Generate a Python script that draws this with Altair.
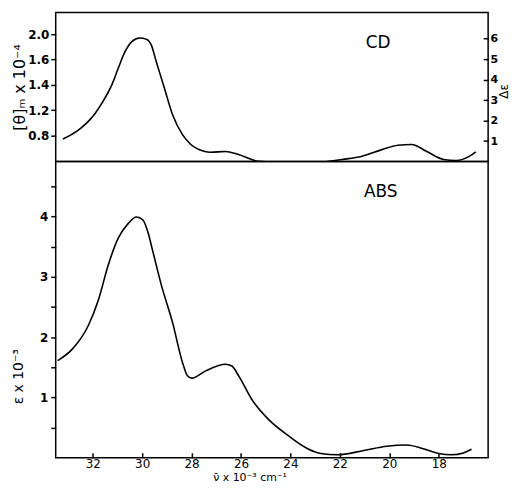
import altair as alt
import pandas as pd

# ---- CD spectrum (Δε) ----
nu_cd = [33.21, 32.57, 32.23, 31.9, 31.63, 31.23, 30.97, 30.7, 30.43, 30.1, 29.83, 29.63,
         29.43, 29.1, 28.77, 28.37, 28.03, 27.5, 27.23, 26.63, 26.1, 25.3, 24.05, 22.7,
         21.9, 21.1, 20.3, 19.65, 19.1, 18.5, 17.8, 17.3, 16.75, 16.5]
de_cd = [1.10, 1.55, 1.9, 2.36, 2.85, 3.74, 4.55, 5.35, 5.84, 6.03, 5.97, 5.68,
         4.87, 3.58, 2.28, 1.31, 0.83, 0.5, 0.45, 0.49, 0.34, 0.01, -0.06, -0.02,
         0.1, 0.26, 0.58, 0.79, 0.83, 0.5, 0.1, 0.05, 0.26, 0.47]

# ---- Absorption spectrum (ε x 10^-3) ----
nu_abs = [33.42, 32.83, 32.17, 31.77, 31.37, 30.97, 30.57, 30.23, 29.97, 29.77, 29.57,
          29.23, 28.77, 28.37, 28.17, 28.0, 27.43, 26.63, 26.37, 26.1, 25.57, 24.9,
          24.1, 23.3, 22.77, 22.1, 21.03, 20.1, 19.3, 18.63, 18.0, 17.47, 17.0, 16.67]
eps_abs = [1.61, 1.80, 2.2, 2.62, 3.2, 3.64, 3.88, 3.99, 3.94, 3.74, 3.42,
           2.87, 2.24, 1.58, 1.36, 1.32, 1.44, 1.55, 1.52, 1.36, 0.97, 0.64,
           0.37, 0.15, 0.07, 0.05, 0.12, 0.19, 0.21, 0.15, 0.07, 0.05, 0.08, 0.14]

# axis tick labels
x_ticks = [32, 30, 28, 26, 24, 22, 20, 18]
de_ticks = [1, 2, 3, 4, 5, 6]
theta_tick_pos = [6.2, 4.98, 3.74, 2.51, 1.26]      # positions on the Δε scale
theta_tick_labels = ["2.0", "1.6", "1.4", "1.2", "0.8"]
eps_ticks = [0.5, 1, 1.5, 2, 2.5, 3, 3.5, 4, 4.5]

# panel labels
panel_names = ["CD", "ABS"]
panel_nu = [20.45, 20.35]
panel_val = [5.78, 4.4]

cd_df = pd.DataFrame({"nu": nu_cd, "de": de_cd})
abs_df = pd.DataFrame({"nu": nu_abs, "eps": eps_abs})
cd_lab = pd.DataFrame({"nu": [panel_nu[0]], "de": [panel_val[0]], "t": [panel_names[0]]})
abs_lab = pd.DataFrame({"nu": [panel_nu[1]], "eps": [panel_val[1]], "t": [panel_names[1]]})

FONT = "DejaVu Sans"
W = 435
xscale = alt.Scale(domain=[16, 33.5], reverse=True, nice=False, zero=False)

# labelExpr for the [θ] axis
expr = "''"
for p, l in zip(reversed(theta_tick_pos), reversed(theta_tick_labels)):
    expr = f"abs(datum.value - {p}) < 0.01 ? '{l}' : ({expr})"

de_scale = alt.Scale(domain=[0, 7.28], nice=False, zero=False)

cd_left = alt.Chart(cd_df).mark_line(color="black", strokeWidth=1.6, interpolate="monotone", clip=True).encode(
    x=alt.X("nu:Q", scale=xscale, axis=None),
    y=alt.Y("de:Q", scale=de_scale,
            axis=alt.Axis(orient="left", values=theta_tick_pos, labelExpr=expr,
                          title="[θ]ₘ x 10⁻⁴", grid=False, domain=False,
                          tickSize=5, tickColor="black", tickWidth=1.5,
                          labelPadding=2, labelFontSize=12, labelFontWeight="bold",
                          titleFontSize=16, titleFontWeight="normal", titleX=-28)),
)
cd_right = alt.Chart(cd_df).mark_line(opacity=0, clip=True).encode(
    x=alt.X("nu:Q", scale=xscale, axis=None),
    y=alt.Y("de:Q", scale=de_scale,
            axis=alt.Axis(orient="right", values=de_ticks, format="d",
                          title="Δε", titleAngle=270, titleBaseline="top", titleX=15, titleY=79,
                          grid=False, domain=False,
                          offset=-5, tickSize=5, tickColor="black", tickWidth=1.5,
                          labelPadding=2, labelFontSize=11, labelFontWeight="bold",
                          titleFontSize=12, titleFontWeight="normal")),
)
cd_text = alt.Chart(cd_lab).mark_text(font=FONT, fontSize=17, color="black").encode(
    x=alt.X("nu:Q", scale=xscale, axis=None),
    y=alt.Y("de:Q", scale=de_scale, axis=None),
    text="t:N",
)
top = alt.layer(cd_left, cd_right, cd_text).resolve_axis(y="independent").properties(width=W, height=150)

eps_scale = alt.Scale(domain=[0, 4.91], nice=False, zero=False)
abs_line = alt.Chart(abs_df).mark_line(color="black", strokeWidth=1.6, interpolate="monotone").encode(
    x=alt.X("nu:Q", scale=xscale,
            axis=alt.Axis(values=x_ticks, format="d", title="ν̄ x 10⁻³ cm⁻¹", grid=False,
                          domain=False, offset=-5, tickSize=5, tickColor="black", tickWidth=1.5,
                          labelPadding=1, labelFontSize=12, titleFontSize=11,
                          titleFontWeight="normal", titlePadding=2, titleX=195)),
    y=alt.Y("eps:Q", scale=eps_scale,
            axis=alt.Axis(values=eps_ticks,
                          labelExpr="datum.value % 1 == 0 ? format(datum.value, 'd') : ''",
                          title="ε x 10⁻³", grid=False, domain=False,
                          tickSize=5, tickColor="black", tickWidth=1.5,
                          labelPadding=3, labelFontSize=12, labelFontWeight="bold",
                          titleFontSize=14, titleFontWeight="normal", titleX=-30, titleY=216)),
)
abs_text = alt.Chart(abs_lab).mark_text(font=FONT, fontSize=17, color="black").encode(
    x=alt.X("nu:Q", scale=xscale, axis=None),
    y=alt.Y("eps:Q", scale=eps_scale, axis=None),
    text="t:N",
)
bottom = alt.layer(abs_line, abs_text).resolve_axis(x="independent", y="independent").properties(width=W, height=298)

chart = alt.vconcat(top, bottom, spacing=0, bounds="flush").properties(
    padding={"left": 3, "top": 2, "right": 0, "bottom": 0}
).configure_view(stroke="black", strokeWidth=1.5).configure_axis(
    labelFont=FONT, titleFont=FONT, labelColor="black", titleColor="black"
)

chart.save("out.html", embed_options={"renderer": "svg", "actions": False})
